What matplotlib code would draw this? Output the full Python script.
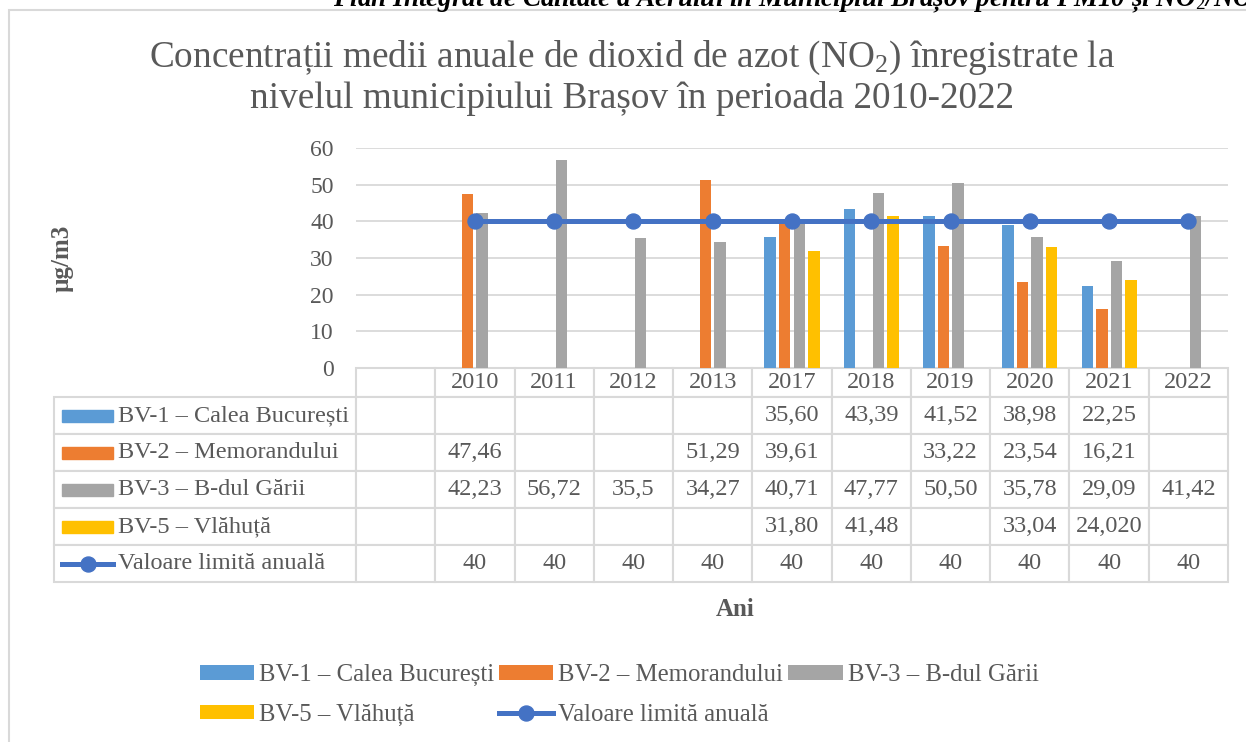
import numpy as np
import matplotlib.pyplot as plt
from matplotlib.patches import Rectangle
from matplotlib.lines import Line2D

plt.rcParams['font.family'] = ['Liberation Serif', 'DejaVu Serif']
plt.rcParams['mathtext.fontset'] = 'custom'
plt.rcParams['mathtext.rm'] = 'Liberation Serif'
plt.rcParams['mathtext.it'] = 'Liberation Serif:italic'
plt.rcParams['mathtext.bf'] = 'Liberation Serif:bold'

# date (asa cum apar in tabelul graficului)
ani = ['', '2010', '2011', '2012', '2013', '2017', '2018', '2019', '2020', '2021', '2022']
bv1 = ['', '', '', '', '', '35,60', '43,39', '41,52', '38,98', '22,25', '']
bv2 = ['', '47,46', '', '', '51,29', '39,61', '', '33,22', '23,54', '16,21', '']
bv3 = ['', '42,23', '56,72', '35,5', '34,27', '40,71', '47,77', '50,50', '35,78', '29,09', '41,42']
bv5 = ['', '', '', '', '', '31,80', '41,48', '', '33,04', '24,020', '']
limita = ['', '40', '40', '40', '40', '40', '40', '40', '40', '40', '40']

nume = ['BV-1 – Calea București', 'BV-2 – Memorandului', 'BV-3 – B-dul Gării',
        'BV-5 – Vlăhuță', 'Valoare limită anuală']
culori = ['#5B9BD5', '#ED7D31', '#A5A5A5', '#FFC000', '#4472C4']
gri = '#595959'


def numere(lista):
    return np.array([float(v.replace(',', '.')) if v else np.nan for v in lista])


W, H = 1246, 742
fig = plt.figure(figsize=(W / 100, H / 100), dpi=100)
ax = fig.add_axes([356 / W, 1 - 368 / H, 872 / W, 220 / H])

x = np.arange(len(ani))
pas, lat = 0.183, 0.145
bare = []
for i, serie in enumerate([bv1, bv2, bv3, bv5]):
    b = ax.bar(x + (i - 1.5) * pas, numere(serie), width=lat, color=culori[i],
               label=nume[i], zorder=2)
    bare.append(b)
linie, = ax.plot(x, numere(limita), color=culori[4], lw=3.6, marker='o', ms=10.8,
                 label=nume[4], zorder=3)

ax.set_xlim(-0.5, len(ani) - 0.5)
ax.set_ylim(0, 60)
ax.set_yticks(range(0, 61, 10))
ax.set_xticks([])
ax.tick_params(axis='y', length=0, pad=16, labelsize=17, labelcolor=gri)
ax.yaxis.grid(True, color='#D9D9D9', lw=1.3)
ax.set_axisbelow(True)
for s in ax.spines.values():
    s.set_visible(False)

# tabelul de date
celule = [[''] + ani]
for n, serie in zip(nume, [bv1, bv2, bv3, bv5, limita]):
    celule.append([n] + serie)

h_cap, h_rand = 29, 37
h_tot = h_cap + 5 * h_rand
x0 = (54 - 356) / 872
tab = ax.table(cellText=celule, cellLoc='center', colWidths=[302] + [872 / 11] * 11,
               bbox=[x0, -h_tot / 220, 1 - x0, h_tot / 220])
tab.auto_set_font_size(False)
tab.set_fontsize(17.5)
for (r, c), cell in tab.get_celld().items():
    cell.set_edgecolor('#D9D9D9')
    cell.set_linewidth(1.5)
    cell.get_text().set_color(gri)
    cell.set_height(h_cap if r == 0 else h_rand)
    if c == 0:
        cell.get_text().set_horizontalalignment('left')
        cell.PAD = 0.212
        if r == 0:
            cell.visible_edges = ''

# cheile de culoare din tabel
kx0, kw = (62 - 356) / 872, 51 / 872
for i in range(5):
    yc = -(h_cap + h_rand * (i + 0.5)) / 220
    if i < 4:
        ax.add_patch(Rectangle((kx0, yc - 6 / 220), kw, 12 / 220, color=culori[i],
                               transform=ax.transAxes, clip_on=False))
    else:
        ax.add_line(Line2D([kx0, kx0 + kw], [yc, yc], color=culori[4], lw=3.6,
                           transform=ax.transAxes, clip_on=False))
        ax.add_line(Line2D([kx0 + kw / 2], [yc], color=culori[4], marker='o', ms=10.8,
                           transform=ax.transAxes, clip_on=False))

# texte
fig.text(333 / W, 1 - 6 / H,
         'Plan Integrat de Calitate a Aerului în Municipiul Brașov pentru PM10 și NO$_2$/NO',
         fontsize=19.5, fontweight='bold', fontstyle='italic', va='baseline', ha='left')
fig.text(632 / W, 1 - 58 / H, 'Concentrații medii anuale de dioxid de azot (NO$_2$) înregistrate la',
         fontsize=26.8, color=gri, ha='center', va='center')
fig.text(632 / W, 1 - 99 / H, 'nivelul municipiului Brașov în perioada 2010-2022',
         fontsize=26.8, color=gri, ha='center', va='center')
fig.text(62 / W, 1 - 258 / H, 'µg/m3', rotation=90, fontsize=18, fontweight='bold',
         color=gri, ha='center', va='center')
fig.text(735 / W, 1 - 609 / H, 'Ani', fontsize=18, fontweight='bold', color=gri,
         ha='center', va='center')

handles = [bare[0], bare[3], bare[1], linie, bare[2]]
labels = [nume[0], nume[3], nume[1], nume[4], nume[2]]
fig.legend(handles, labels, ncol=3, loc='center', bbox_to_anchor=(619 / W, 1 - 695 / H),
           frameon=False, fontsize=17.8, labelcolor=gri, handlelength=2.2, handleheight=0.5,
           handletextpad=0.2, columnspacing=0.2, labelspacing=0.7, numpoints=1)

# chenarul graficului
fig.add_artist(Rectangle((9 / W, -0.05), 1.1, 1.05 - 10 / H, transform=fig.transFigure,
                         fill=False, ec='#D9D9D9', lw=1.5))

fig.savefig('out.png', dpi=100)
